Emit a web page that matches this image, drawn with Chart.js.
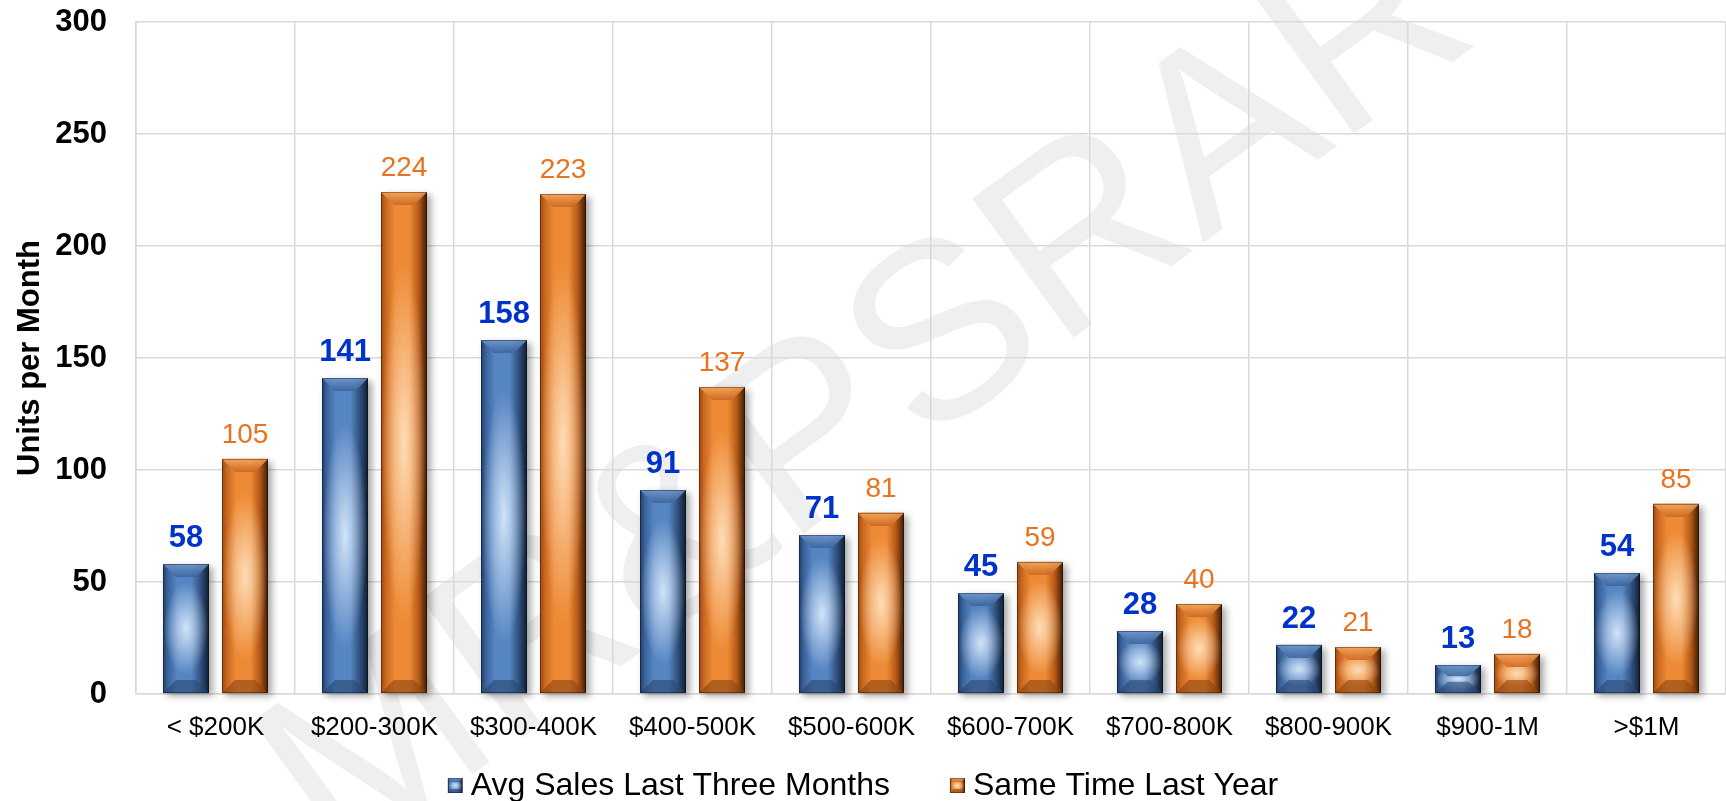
<!DOCTYPE html>
<html><head><meta charset="utf-8">
<script src="https://cdn.jsdelivr.net/npm/chart.js@4/dist/chart.umd.min.js"></script>
<style>html,body{margin:0;padding:0;background:#fff}#wrap{width:1726px;height:801px}</style>
</head><body><div id="wrap"><canvas id="c" width="1726" height="801"></canvas></div>
<script>
// ---- data ----
const categories = ['< $200K', '$200-300K', '$300-400K', '$400-500K', '$500-600K', '$600-700K', '$700-800K', '$800-900K', '$900-1M', '>$1M'];
const avgSalesLastThreeMonths = [58, 141, 158, 91, 71, 45, 28, 22, 13, 54];
const sameTimeLastYear = [105, 224, 223, 137, 81, 59, 40, 21, 18, 85];
const seriesNames = ['Avg Sales Last Three Months', 'Same Time Last Year'];
const yTickValues = [0, 50, 100, 150, 200, 250, 300];
const yAxisTitle = 'Units per Month';
const watermarkText = 'MR&PSRAR';

// ---- styles ----
const FONT = '"Liberation Sans", Arial, sans-serif';
const pals = [
  {e0:'#223d66', e1:'#3a629b', mid:'#5585c2', e2:'#30517f', e3:'#0f1c30', hi:'rgba(220,235,252,0.92)', hi0:'rgba(220,235,252,0)', top:'#7099cd', bottom:'#2a4670', label:'#0033cc'},
  {e0:'#9a4a10', e1:'#c7661f', mid:'#ee8a35', e2:'#b65a18', e3:'#3d1b05', hi:'rgba(255,228,195,0.92)', hi0:'rgba(255,228,195,0)', top:'#f7a95e', bottom:'#8a4510', label:'#e8731e'}
];

function drawBar(ctx, l, t, r, b, p, small) {
  const w = r - l, h = b - t;
  if (h <= 0 || w <= 0) return;
  if (!small) {
    ctx.save();
    ctx.shadowColor = 'rgba(0,0,0,0.35)'; ctx.shadowBlur = 7; ctx.shadowOffsetX = 4; ctx.shadowOffsetY = 3;
    ctx.fillStyle = p.mid; ctx.fillRect(l, t, w, h);
    ctx.restore();
  }
  ctx.save();
  ctx.beginPath(); ctx.rect(l, t, w, h); ctx.clip();
  const g = ctx.createLinearGradient(l, 0, r, 0);
  g.addColorStop(0, p.e0); g.addColorStop(0.1, p.e1); g.addColorStop(0.3, p.mid);
  g.addColorStop(0.62, p.mid); g.addColorStop(0.82, p.e2); g.addColorStop(1, p.e3);
  ctx.fillStyle = g; ctx.fillRect(l, t, w, h);
  const cx = (l + r) / 2, cy = t + h * 0.5;
  const rx = w * 0.48, ry = Math.max(h * 0.36, w * 0.28);
  ctx.save(); ctx.translate(cx, cy); ctx.scale(1, ry / rx);
  const rg = ctx.createRadialGradient(0, 0, 0, 0, 0, rx);
  rg.addColorStop(0, p.hi); rg.addColorStop(1, p.hi0);
  ctx.fillStyle = rg; ctx.beginPath(); ctx.arc(0, 0, rx, 0, Math.PI * 2); ctx.fill();
  ctx.restore();
  const dv = small ? 4 : Math.min(13, h * 0.4), dx = small ? 4 : Math.min(13, w * 0.28);
  ctx.globalAlpha = 0.85;
  let tg = ctx.createLinearGradient(0, t, 0, t + dv);
  tg.addColorStop(0, p.top); tg.addColorStop(1, p.e1);
  ctx.fillStyle = tg;
  ctx.beginPath(); ctx.moveTo(l, t); ctx.lineTo(r, t); ctx.lineTo(r - dx, t + dv); ctx.lineTo(l + dx, t + dv); ctx.closePath(); ctx.fill();
  ctx.globalAlpha = 0.6;
  ctx.fillStyle = p.bottom;
  ctx.beginPath(); ctx.moveTo(l, b); ctx.lineTo(r, b); ctx.lineTo(r - dx, b - dv); ctx.lineTo(l + dx, b - dv); ctx.closePath(); ctx.fill();
  ctx.globalAlpha = 1;
  ctx.restore();
  ctx.save();
  ctx.strokeStyle = 'rgba(0,0,0,0.35)'; ctx.lineWidth = 1;
  ctx.strokeRect(l + 0.5, t + 0.5, w - 1, h - 1);
  ctx.restore();
}

const decor = {
  id: 'decor',
  beforeDraw(chart) {
    const ctx = chart.ctx;
    ctx.save();
    ctx.translate(870, 400);
    ctx.rotate(-36 * Math.PI / 180);
    ctx.font = '250px ' + FONT;
    ctx.fillStyle = '#efefef';
    ctx.textAlign = 'center'; ctx.textBaseline = 'middle';
    ctx.fillText(watermarkText, 0, 0);
    ctx.restore();
  },
  afterDatasetsDraw(chart) {
    const ctx = chart.ctx;
    chart.data.datasets.forEach((ds, di) => {
      const meta = chart.getDatasetMeta(di);
      meta.data.forEach(el => {
        const {x, y, base, width} = el.getProps(['x', 'y', 'base', 'width'], true);
        drawBar(ctx, Math.round(x - width / 2), Math.round(y), Math.round(x + width / 2), Math.round(base), pals[di], false);
      });
    });
    chart.data.datasets.forEach((ds, di) => {
      const meta = chart.getDatasetMeta(di);
      ctx.save();
      ctx.font = (di === 0 ? 'bold 31px ' : '28px ') + FONT;
      ctx.fillStyle = pals[di].label;
      ctx.textAlign = 'center'; ctx.textBaseline = 'alphabetic';
      meta.data.forEach((el, i) => {
        ctx.fillText(String(ds.data[i]), el.x, el.y - (di === 0 ? 17 : 16));
      });
      ctx.restore();
    });
  },
  afterDraw(chart) {
    const ctx = chart.ctx;
    ctx.save();
    ctx.font = '32px ' + FONT;
    const box = 15, gapBT = 8, gapItems = 60;
    const widths = seriesNames.map(n => ctx.measureText(n).width);
    const total = widths.reduce((a, w) => a + box + gapBT + w, 0) + gapItems * (seriesNames.length - 1);
    let x = (chart.width - total) / 2;
    const cy = 785;
    seriesNames.forEach((n, i) => {
      drawBar(ctx, x, cy - 7, x + box, cy + 8, pals[i], true);
      ctx.fillStyle = '#000';
      ctx.textAlign = 'left'; ctx.textBaseline = 'middle';
      ctx.fillText(n, x + box + gapBT, cy + 1);
      x += box + gapBT + widths[i] + gapItems;
    });
    ctx.restore();
  }
};

new Chart(document.getElementById('c'), {
  type: 'bar',
  data: {
    labels: categories,
    datasets: [
      {label: seriesNames[0], data: avgSalesLastThreeMonths, backgroundColor: pals[0].mid},
      {label: seriesNames[1], data: sameTimeLastYear, backgroundColor: pals[1].mid}
    ]
  },
  options: {
    responsive: false,
    animation: false,
    devicePixelRatio: 1,
    layout: {padding: {top: 22, left: 0, right: 0, bottom: 60}},
    categoryPercentage: 0.742,
    barPercentage: 0.78,
    plugins: {legend: {display: false}, tooltip: {enabled: false}},
    scales: {
      x: {
        grid: {color: '#d9d9d9', lineWidth: 1.5, drawTicks: false, offset: true},
        border: {color: '#d9d9d9', width: 1.5},
        ticks: {color: '#000', font: {family: FONT, size: 26}, padding: 18, maxRotation: 0, autoSkip: false},
        afterFit(s) { s.height = 47; s.paddingLeft = 0; s.paddingRight = 0; s.paddingTop = 0; s.paddingBottom = 0; }
      },
      y: {
        min: yTickValues[0], max: yTickValues[yTickValues.length - 1],
        afterBuildTicks(s) { s.ticks = yTickValues.map(v => ({value: v})); },
        grid: {color: '#d9d9d9', lineWidth: 1.5, drawTicks: false},
        border: {color: '#d9d9d9', width: 1.5},
        ticks: {color: '#000', font: {family: FONT, size: 31, weight: 'bold'}, padding: 29},
        title: {display: true, text: yAxisTitle, color: '#000', font: {family: FONT, size: 31, weight: 'bold'}, padding: {top: 12, bottom: 0}},
        afterFit(s) { s.width = 136; s.paddingTop = 0; s.paddingBottom = 0; s.paddingLeft = 0; s.paddingRight = 0; }
      }
    }
  },
  plugins: [decor]
});
</script>
</body></html>
